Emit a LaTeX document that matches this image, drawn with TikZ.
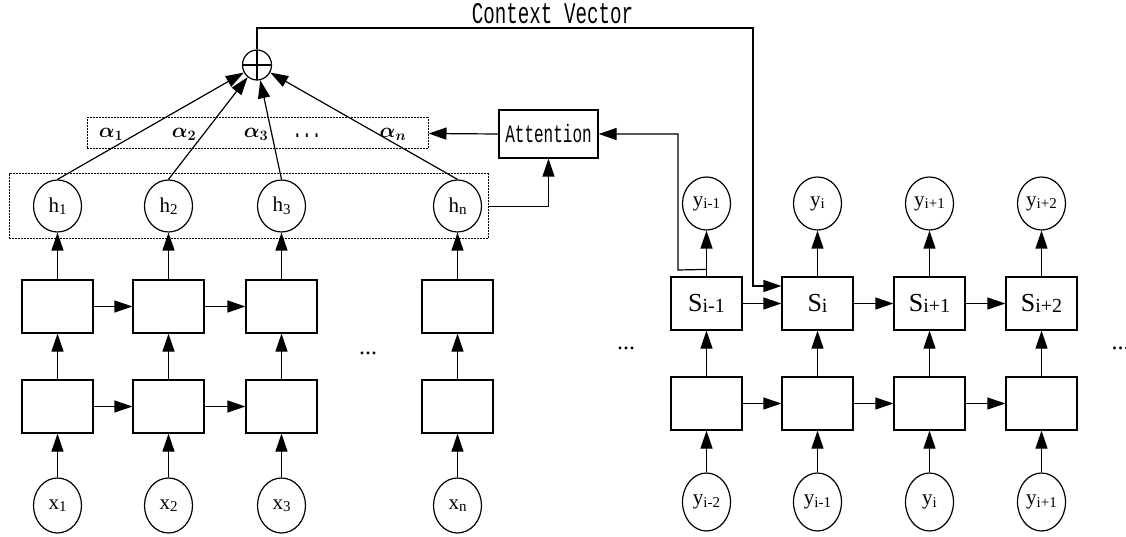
\documentclass[tikz,border=0pt]{standalone}
\usepackage{amsmath}
\usepackage{fontspec}
\setmainfont{Liberation Serif}
\newfontfamily\monof[FakeStretch=0.64]{Liberation Mono}
\usetikzlibrary{shapes.geometric,arrows.meta}
\newcommand\lab[2]{{\fontsize{21}{21}\selectfont #1}\raisebox{-2.5pt}{\fontsize{15}{15}\selectfont #2}}
\newcommand\slab[2]{{\fontsize{26}{26}\selectfont #1}\raisebox{-1.5pt}{\fontsize{20}{20}\selectfont #2}}
\newcommand\alab[1]{{\fontsize{22}{22}\selectfont$\boldsymbol{\alpha_{#1}}$}}
\begin{document}
\begin{tikzpicture}[x=1pt,y=-1pt,line width=1.2pt,
  arr/.style={-{Triangle[length=18pt,width=12pt]}},
  cell/.style={draw, minimum width=71pt, minimum height=53pt, inner sep=0},
  var/.style={draw, ellipse, minimum width=48pt, minimum height=53pt, inner sep=0},
  dotbox/.style={draw, line width=1pt, dash pattern=on 1.6pt off 1.4pt, inner sep=0},
  mono/.style={font=\monof\fontsize{#1}{#1}\selectfont},
]
\useasboundingbox (0,0) rectangle (1126,537);

% dotted groups
\node[dotbox, minimum width=479pt, minimum height=65pt] (hbox) at (248.5,206.5) {};
\node[dotbox, minimum width=341pt, minimum height=31pt] (abox) at (257.5,133.5) {};

% encoder
\foreach \i/\x in {1/57.5, 2/168.5, 3/281.5, n/457.5} {
  \node[var, minimum height=52pt] (h\i) at (\x,206) {\lab{h}{\i}};
  \node[cell] (u\i) at (\x,306.5) {};
  \node[cell] (l\i) at (\x,406.5) {};
  \node[var, minimum height=55pt] (x\i) at (\x,505.5) {\lab{x}{\i}};
  \draw[arr] (x\i) -- (l\i);
  \draw[arr] (l\i) -- (u\i);
  \draw[arr] (u\i) -- (h\i);
}
\draw[arr] (u1) -- (u2);
\draw[arr] (u2) -- (u3);
\draw[arr] (l1) -- (l2);
\draw[arr] (l2) -- (l3);
\node (edots) at (368,353) {\fontsize{24}{24}\selectfont ...};

% alpha labels
\node (a1) at (111,134) {\alab{1}};
\node (a2) at (184,134) {\alab{2}};
\node (a3) at (256,134) {\alab{3}};
\node[mono=25] (adots) at (307,136) {...};
\node (an) at (393,134) {\alab{n}};

% plus
\node[draw, ellipse, minimum width=29pt, minimum height=30pt, inner sep=0,
  path picture={\draw (path picture bounding box.north) -- (path picture bounding box.south)
                      (path picture bounding box.west) -- (path picture bounding box.east);}]
  (plus) at (257,65) {};
\draw[arr] (h1.north) -- (plus);
\draw[arr] (h2.north) -- (plus);
\draw[arr] (h3.north) -- (plus);
\draw[arr] (hn.north) -- (plus);

% attention
\node[draw, minimum width=99pt, minimum height=48pt, inner sep=0, mono=25] (att) at (548.5,134) {Attention};
\draw[arr] (att.west) -- (abox.east);
\draw[arr] (hbox.east) -| (att.south);

% decoder
\foreach \k/\x/\t/\b in {1/706.5/i-1/i-2, 2/817.5/i/i-1, 3/929.5/i+1/i, 4/1041.5/i+2/i+1} {
  \node[var] (yt\k) at (\x,203.5) {\lab{y}{\t}};
  \node[cell] (s\k) at (\x,303.5) {\slab{S}{\t}};
  \node[cell] (r\k) at (\x,403.5) {};
  \node[var, minimum height=58pt] (yb\k) at (\x,502) {\lab{y}{\b}};
  \draw[arr] (yb\k) -- (r\k);
  \draw[arr] (r\k) -- (s\k);
  \draw[arr] (s\k) -- (yt\k);
}
\foreach \a/\b in {1/2, 2/3, 3/4} {
  \draw[arr] (s\a) -- (s\b);
  \draw[arr] (r\a) -- (r\b);
}
\node (ddots) at (626,348) {\fontsize{24}{24}\selectfont ...};
\node[anchor=west, inner sep=0] (rdots) at (1111,348) {\fontsize{24}{24}\selectfont ...};

% feedback s_{i-1} -> attention
\coordinate (fb) at (678,270);
\draw[arr] ([yshift=7pt]s1.north) -- (fb) |- (att.east);

% context vector
\coordinate (ctx) at (753,28);
\node[mono=30] (ctxlab) at (552.5,14) {Context Vector};
\draw[arr] (plus.north) |- (ctx) |- ([yshift=17.5pt]s2.west);
\end{tikzpicture}
\end{document}
